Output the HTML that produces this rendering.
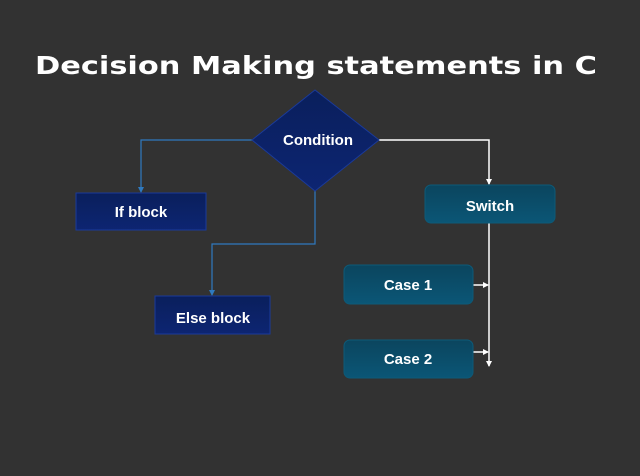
<!DOCTYPE html>
<html><head><meta charset="utf-8"><style>
html,body{margin:0;padding:0;background:#323232;}
svg{display:block}
text{font-family:"Liberation Sans",sans-serif;font-weight:bold;fill:#fff}
</style></head><body>
<svg width="640" height="476" viewBox="0 0 640 476" xmlns="http://www.w3.org/2000/svg">
<defs>
<linearGradient id="nb" x1="0" y1="0" x2="0" y2="1"><stop offset="0" stop-color="#0a1f5c"/><stop offset="1" stop-color="#0d2572"/></linearGradient>
<linearGradient id="tb" x1="0" y1="0" x2="0" y2="1"><stop offset="0" stop-color="#0b455e"/><stop offset="1" stop-color="#0b5676"/></linearGradient>
<marker id="ab" markerWidth="6" markerHeight="6" refX="5" refY="3" orient="auto" markerUnits="userSpaceOnUse"><path d="M0,0L6,3L0,6z" fill="#2f7ac0"/></marker>
<marker id="aw" markerWidth="6" markerHeight="6" refX="5" refY="3" orient="auto" markerUnits="userSpaceOnUse"><path d="M0,0L6,3L0,6z" fill="#fff"/></marker>
</defs>
<rect width="640" height="476" fill="#323232"/>
<text x="35" y="74" font-size="25" textLength="562" lengthAdjust="spacingAndGlyphs" style="font-family:'DejaVu Sans',sans-serif">Decision Making statements in C</text>
<polyline points="252,140 141,140 141,192" fill="none" stroke="#2f7ac0" stroke-width="1.2" marker-end="url(#ab)"/>
<polyline points="315,191 315,244 212,244 212,295" fill="none" stroke="#2f7ac0" stroke-width="1.2" marker-end="url(#ab)"/>
<polyline points="379,140 489,140 489,184" fill="none" stroke="#fff" stroke-width="1.5" marker-end="url(#aw)"/>
<line x1="489" y1="223" x2="489" y2="366" stroke="#fff" stroke-width="1.5" marker-end="url(#aw)"/>
<line x1="473" y1="285" x2="488" y2="285" stroke="#fff" stroke-width="1.5" marker-end="url(#aw)"/>
<line x1="473" y1="352" x2="488" y2="352" stroke="#fff" stroke-width="1.5" marker-end="url(#aw)"/>
<polygon points="315,90 379,140 315,191 252,140" fill="url(#nb)" stroke="#1a3a9a" stroke-width="1"/>
<text x="318" y="145" font-size="15" text-anchor="middle">Condition</text>
<rect x="76" y="193" width="130" height="37" fill="url(#nb)" stroke="#1a3a9a"/>
<text x="141" y="217" font-size="15" text-anchor="middle">If block</text>
<rect x="155" y="296" width="115" height="38" fill="url(#nb)" stroke="#1a3a9a"/>
<text x="213" y="323" font-size="15" text-anchor="middle">Else block</text>
<rect x="425" y="185" width="130" height="38" rx="6" fill="url(#tb)" stroke="#0d5a78"/>
<text x="490" y="211" font-size="15" text-anchor="middle">Switch</text>
<rect x="344" y="265" width="129" height="39" rx="6" fill="url(#tb)" stroke="#0d5a78"/>
<text x="408" y="290" font-size="15" text-anchor="middle">Case 1</text>
<rect x="344" y="340" width="129" height="38" rx="6" fill="url(#tb)" stroke="#0d5a78"/>
<text x="408" y="364" font-size="15" text-anchor="middle">Case 2</text>
</svg>
</body></html>
